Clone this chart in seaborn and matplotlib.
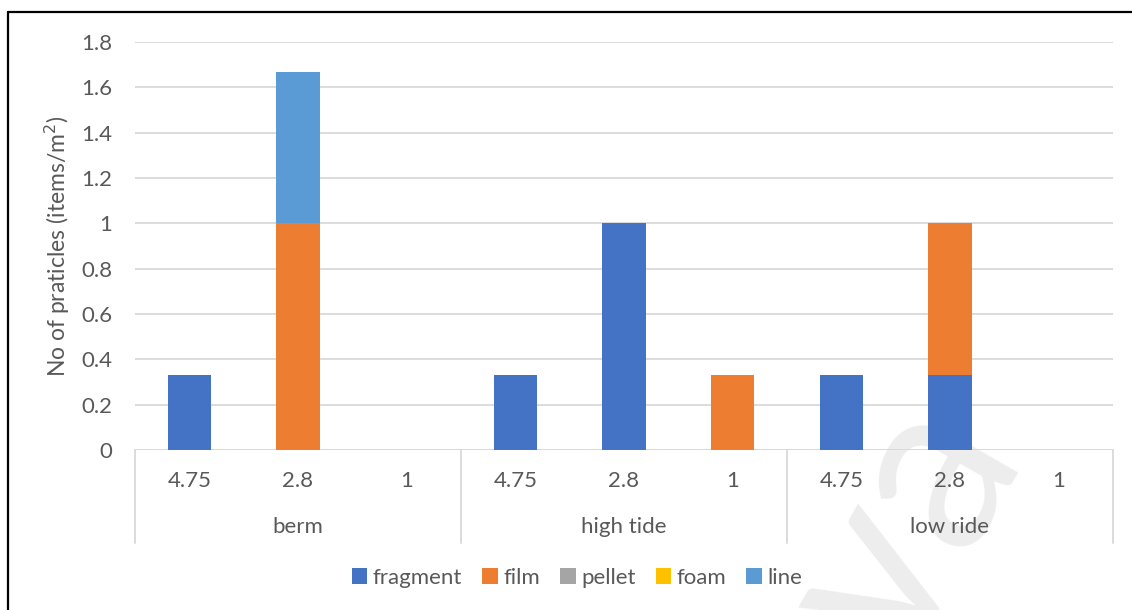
import numpy as np
import pandas as pd
import seaborn as sns
import matplotlib.pyplot as plt
from matplotlib.lines import Line2D

# Sites and sieve sizes (mm), three sizes per site
sites = ["berm", "high tide", "low ride"]
sizes = ["4.75", "2.8", "1"]

# Particle counts (items/m²) per site/size, in site-major order
fragment = [0.333, 0.0, 0.0, 0.333, 1.0, 0.0, 0.333, 0.333, 0.0]
film     = [0.0, 1.0, 0.0, 0.0, 0.0, 0.333, 0.0, 0.667, 0.0]
pellet   = [0.0, 0.0, 0.0, 0.0, 0.0, 0.0, 0.0, 0.0, 0.0]
foam     = [0.0, 0.0, 0.0, 0.0, 0.0, 0.0, 0.0, 0.0, 0.0]
line     = [0.0, 0.667, 0.0, 0.0, 0.0, 0.0, 0.0, 0.0, 0.0]

series_names = ["fragment", "film", "pellet", "foam", "line"]
series_vals = [fragment, film, pellet, foam, line]
series_colors = ["#4472C4", "#ED7D31", "#A5A5A5", "#FFC000", "#5B9BD5"]

yticks = [0, 0.2, 0.4, 0.6, 0.8, 1, 1.2, 1.4, 1.6, 1.8]
ytick_labels = ["0", "0.2", "0.4", "0.6", "0.8", "1", "1.2", "1.4", "1.6", "1.8"]

sns.set_theme(style="white")
plt.rcParams["font.family"] = ["Lato", "DejaVu Sans"]
TXT = "#595959"
GRID = "#D9D9D9"
FS = 16

W, H = 1132, 610
fig = plt.figure(figsize=(W / 100, H / 100), dpi=100)
fig.patch.set_facecolor("white")
ax = fig.add_axes([135 / W, 1 - 450 / H, (1113 - 135) / W, (450 - 42) / H])
ax.patch.set_alpha(0)
ax.set_zorder(2)

ids = [f"{s}|{z}" for s in sites for z in sizes]

bottom = np.zeros(len(ids))
for name, vals, col in zip(series_names, series_vals, series_colors):
    v = np.array(vals, dtype=float)
    sns.barplot(x=ids, y=v, bottom=bottom, color=col, width=0.4, order=ids,
                errorbar=None, ax=ax, label=name, linewidth=0, saturation=1,
                zorder=3)
    bottom = bottom + v

ax.set_xlim(-0.5, len(ids) - 0.5)
ax.set_ylim(0, 1.8)
ax.set_yticks(yticks)
ax.set_yticklabels(ytick_labels)
ax.yaxis.grid(True, color=GRID, linewidth=1.3, zorder=0)
ax.set_axisbelow(True)
for sp in ax.spines.values():
    sp.set_visible(False)
ax.tick_params(axis="y", length=0, pad=16.5, labelsize=FS, labelcolor=TXT)
ax.set_xticks([])
ax.set_xlabel("")
ax.set_ylabel("No of praticles (items/m$^2$)", fontsize=FS + 0.5, color=TXT)
ax.yaxis.set_label_coords((72 - 135) / 978, 0.5)

# Two-level category axis drawn below the plot
ax_h = 450 - 42
ax.axhline(0, color=GRID, linewidth=1.3, zorder=1)
for b in [-0.5, 2.5, 5.5, 8.5]:
    ax.plot([b, b], [0, -(543 - 450) / ax_h], color=GRID, linewidth=1.3,
            transform=ax.get_xaxis_transform(), clip_on=False)
for i, cid in enumerate(ids):
    ax.text(i, -(481 - 450) / ax_h, cid.split("|")[1], ha="center", va="center",
            fontsize=FS, color=TXT, transform=ax.get_xaxis_transform())
for j, s in enumerate(sites):
    ax.text(3 * j + 1, -(527 - 450) / ax_h, s, ha="center", va="center",
            fontsize=FS, color=TXT, transform=ax.get_xaxis_transform())

leg = ax.legend(loc="center", bbox_to_anchor=(577 / W, 1 - 578 / H),
                bbox_transform=fig.transFigure, ncol=5, frameon=False,
                fontsize=FS, handlelength=0.7, handleheight=0.7,
                handletextpad=0.25, columnspacing=0.9, borderaxespad=0)
for t in leg.get_texts():
    t.set_color(TXT)

# Faint background mark in the lower right
fig.text(905 / W, 1 - 528 / H, "va", fontsize=175, color="#EDEDED",
         rotation=60, ha="center", va="center", zorder=0)

# Frame lines along the top and left edges
fig.add_artist(Line2D([8 / W, 1], [1 - 12 / H, 1 - 12 / H], color="black",
                      linewidth=1.6, transform=fig.transFigure))
fig.add_artist(Line2D([8 / W, 8 / W], [0, 1 - 12 / H], color="black",
                      linewidth=1.6, transform=fig.transFigure))

fig.savefig("out.png", dpi=100, facecolor="white")
